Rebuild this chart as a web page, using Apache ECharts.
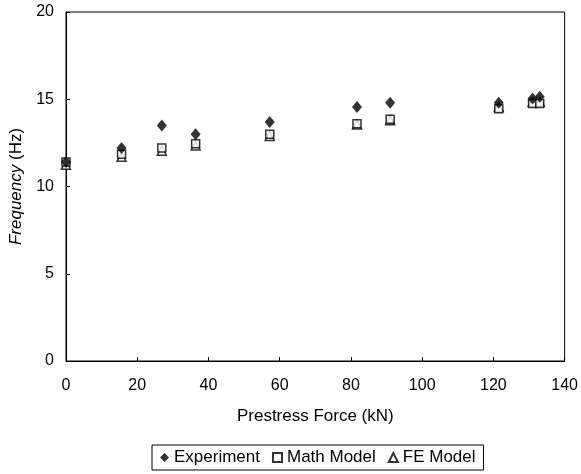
<!DOCTYPE html>
<html>
<head>
<meta charset="utf-8">
<script src="https://cdn.jsdelivr.net/npm/echarts@6/dist/echarts.min.js"></script>
<style>html,body{margin:0;padding:0;background:#fff;}#c{width:581px;height:474px;}</style>
</head>
<body>
<div id="c"></div>
<script>
const force = [0, 15.6, 26.9, 36.4, 57.2, 81.7, 91.0, 121.5, 131, 133];
const experiment = [11.4, 12.2, 13.5, 13.0, 13.7, 14.55, 14.8, 14.8, 15.05, 15.15];
const mathModel = [11.4, 11.85, 12.2, 12.45, 13.0, 13.6, 13.85, 14.45, 14.75, 14.75];
const feModel = [11.25, 11.7, 12.05, 12.35, 12.9, 13.55, 13.8, 14.55, 14.85, 14.85];
const xTicks = [0, 20, 40, 60, 80, 100, 120, 140];
const yTicks = [0, 5, 10, 15, 20];

const pair = (ys) => force.map((x, i) => [x, ys[i]]);
const font = 'Liberation Sans, Arial, sans-serif';

const chart = echarts.init(document.getElementById('c'));
chart.setOption({
  animation: false,
  backgroundColor: '#fff',
  textStyle: { fontFamily: font, color: '#000' },
  grid: { left: 66, right: 15, top: 12, bottom: 113, show: true, borderColor: '#000', borderWidth: 1, backgroundColor: 'transparent' },
  xAxis: {
    type: 'value', min: xTicks[0], max: xTicks[xTicks.length - 1], interval: 20,
    name: 'Prestress Force (kN)', nameLocation: 'middle', nameGap: 47,
    nameTextStyle: { fontSize: 17, color: '#000', fontFamily: font },
    axisLine: { lineStyle: { color: '#000', width: 1 } },
    axisTick: { inside: true, length: 4, lineStyle: { color: '#000' } },
    axisLabel: { fontSize: 16, color: '#000', margin: 17, fontFamily: font },
    splitLine: { show: false }
  },
  yAxis: {
    type: 'value', min: yTicks[0], max: yTicks[yTicks.length - 1], interval: 5,
    name: '{i|Frequency} (Hz)', nameLocation: 'middle', nameGap: 41, nameRotate: 90,
    nameTextStyle: { fontSize: 17, color: '#000', fontFamily: font,
      rich: { i: { fontStyle: 'italic', fontSize: 17, fontFamily: font, color: '#000' } } },
    axisLine: { show: true, lineStyle: { color: '#000', width: 1 } },
    axisTick: { show: true, inside: true, length: 4, lineStyle: { color: '#000' } },
    axisLabel: { fontSize: 16, color: '#000', margin: 12, fontFamily: font },
    splitLine: { show: false }
  },
  legend: {
    left: 152, top: 445,
    itemGap: 12, itemWidth: 9, itemHeight: 9,
    padding: [4, 8, 4, 8],
    borderColor: '#000', borderWidth: 1,
    textStyle: { fontSize: 17, color: '#000', fontFamily: font, padding: [0, 0, 0, 0] },
    data: [
      { name: 'Experiment', icon: 'diamond' },
      { name: 'Math Model', icon: 'rect' },
      { name: 'FE Model', icon: 'triangle' }
    ]
  },
  series: [
    { name: 'FE Model', type: 'scatter', data: pair(feModel), symbol: 'triangle', symbolSize: 9,
      itemStyle: { color: '#fff', borderColor: '#000', borderWidth: 1.5 }, z: 3 },
    { name: 'Math Model', type: 'scatter', data: pair(mathModel), symbol: 'rect', symbolSize: 8,
      itemStyle: { color: '#fff', borderColor: '#000', borderWidth: 1.5 }, z: 4 },
    { name: 'Experiment', type: 'scatter', data: pair(experiment), symbol: 'diamond', symbolSize: [10, 12],
      itemStyle: { color: '#000' }, z: 5 }
  ]
});
</script>
</body>
</html>
